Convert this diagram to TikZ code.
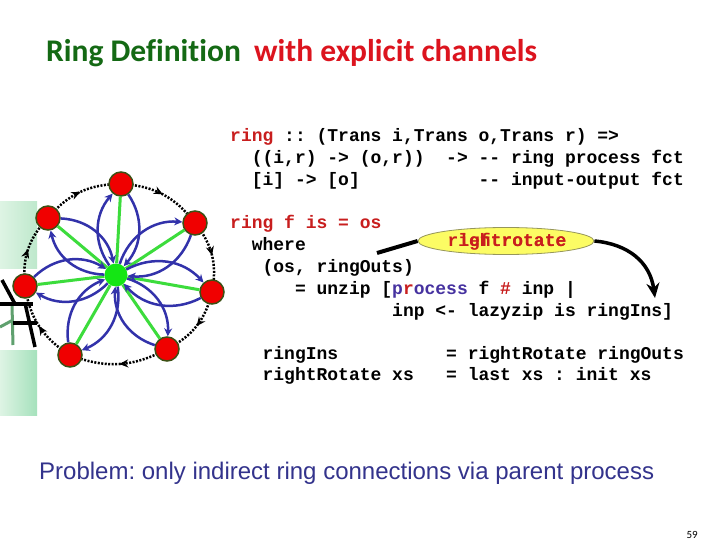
\documentclass[tikz,border=0pt]{standalone}
\usepackage{fontspec}
\setmainfont{Liberation Sans}
\newfontfamily\titlefont{Carlito}[Ligatures={NoCommon}]
\newfontfamily\codefont{Liberation Mono}
\usetikzlibrary{arrows.meta,decorations.markings,shapes.geometric}
\frenchspacing
\definecolor{titlegreen}{RGB}{20,105,20}
\definecolor{titlered}{RGB}{220,20,30}
\definecolor{codered}{RGB}{200,30,30}
\definecolor{probblue}{RGB}{51,51,140}
\definecolor{petalblue}{RGB}{50,50,170}
\definecolor{spokegreen}{RGB}{60,220,60}
\definecolor{nodered}{RGB}{240,0,0}
\definecolor{nodeedge}{RGB}{60,80,20}
\definecolor{centergreen}{RGB}{20,230,20}
\definecolor{ellyellow}{RGB}{252,252,100}
\definecolor{ellborder}{RGB}{150,150,90}
\definecolor{procblue}{RGB}{70,50,160}
\definecolor{lightgreenA}{RGB}{222,244,228}
\definecolor{lightgreenB}{RGB}{190,232,204}
\definecolor{lightgreenC}{RGB}{165,225,188}
\definecolor{gridgreen}{RGB}{95,160,110}
\tikzset{
  code/.style={anchor=base west, inner sep=0pt, font=\codefont\bfseries\fontsize{18}{20}\selectfont},
  ringnode/.style={circle, fill=nodered, draw=nodeedge, line width=1.5pt, minimum size=24pt, inner sep=0pt},
  hubnode/.style={circle, fill=centergreen, minimum size=23pt, inner sep=0pt},
  ringarc/.style={line width=2.5pt, dash pattern=on 2pt off 1.5pt,
    decoration={markings, mark=at position 0.5 with {\arrow{Stealth[length=9pt,width=8pt]}}},
    postaction={decorate}},
  spoke/.style={line width=3pt, spokegreen},
  petal/.style={line width=2.5pt, petalblue, -{Stealth[length=8pt,width=8pt]}},
  gridline/.style={line width=3.5pt, black}
}
\begin{document}
\begin{tikzpicture}[x=1pt,y=-1pt]
\useasboundingbox (0,0) rectangle (720,540);
\fill[white] (0,0) rectangle (720,540);
% left decoration
\shade[left color=lightgreenA, right color=lightgreenB] (0,202) rectangle (37,268);
\shade[left color=lightgreenA, right color=lightgreenC] (0,350) rectangle (37,415);
\draw[gridgreen, line width=3pt] (12,305) -- (13,345);
\draw[gridgreen, line width=3pt] (0,327) -- (13,320);
\draw[gridline] (2,280) -- (15,304);
\draw[gridline] (0,304) -- (33,304);
\draw[gridline] (13,323) -- (37,323);
\draw[gridline] (25,303) -- (35,347);
% ring
\coordinate (p1) at (121,184);
\coordinate (p2) at (195,223);
\coordinate (p3) at (212,292);
\coordinate (p4) at (167,349);
\coordinate (p5) at (70,355);
\coordinate (p6) at (25,286);
\coordinate (p7) at (48,218);
\draw[ringarc] (p1) to[bend left=25] (p2);
\draw[ringarc] (p2) to[bend left=25] (p3);
\draw[ringarc] (p3) to[bend left=25] (p4);
\draw[ringarc] (p4) to[bend left=25] (p5);
\draw[ringarc] (p5) to[bend left=25] (p6);
\draw[ringarc] (p6) to[bend left=25] (p7);
\draw[ringarc] (p7) to[bend left=25] (p1);
\node[hubnode] (c) at (116,275) {};
\foreach \i in {1,...,7} {\node[ringnode] (n\i) at (p\i) {};}
\foreach \i in {1,...,7} {\draw[spoke] (c) -- (n\i);}
\foreach \i in {1,...,7} {
  \draw[petal] (c) to[bend left=38] (n\i);
  \draw[petal] (n\i) to[bend left=38] (c);
}
% title
\node[anchor=base west, inner sep=0pt, font=\titlefont\bfseries\fontsize{31.5}{34}\selectfont, text=titlegreen] (t1) at (46,62) {Ring Definition};
\node[anchor=base west, inner sep=0pt, font=\titlefont\bfseries\fontsize{31.5}{34}\selectfont, text=titlered] (t2) at (254,62) {with explicit channels};
% code
\node[code, text=codered] (l1a) at (230,142) {ring};
\node[code] (l1b) at (284,142) {:: (Trans i,Trans o,Trans r) =>};
\node[code] (l2a) at (251.6,164) {((i,r) -> (o,r))};
\node[code] (l2b) at (446,164) {-> -- ring process fct};
\node[code] (l3a) at (251.6,186) {[i] -> [o]};
\node[code] (l3b) at (478.4,186) {-- input-output fct};
\node[code, text=codered] (l4) at (230,229) {ring f is = os};
\node[code] (l5) at (251.6,250) {where};
\node[code] (l6) at (262.4,272) {(os, ringOuts)};
\node[code] (l7a) at (294.8,294) {= unzip [};
\node[code] (l7b) at (392,294) {{\color{procblue}p}{\color{codered}r}{\color{procblue}ocess}};
\node[code] (l7c) at (478.4,294) {f};
\node[code, text=codered] (l7d) at (500,294) {\#};
\node[code] (l7e) at (521.6,294) {inp |};
\node[code] (l8) at (392,316) {inp <- lazyzip is ringIns]};
\node[code] (l9a) at (262.4,359) {ringIns};
\node[code] (l9b) at (446,359) {= rightRotate ringOuts};
\node[code] (l10a) at (262.4,380) {rightRotate xs};
\node[code] (l10b) at (446,380) {= last xs : init xs};
% ellipse
\node[ellipse, draw=ellborder, line width=0.8pt, fill=ellyellow, minimum width=176pt, minimum height=27pt, inner sep=0pt] (ell) at (506,241) {};
\node[code, anchor=base, text=codered] (rr) at (507,246) {rightrotate};
\node[code, anchor=base east, text=codered] (lr) at (rr.base east) {leftrotate};
\coordinate (whereend) at (377,253);
\coordinate (arrowend) at (655,298);
\draw[line width=4pt] (whereend) -- (ell.west);
\draw[line width=3.5pt, -{Stealth[length=15pt,width=13pt]}] (ell.east) .. controls (628,244) and (650,262) .. (arrowend);
% bottom
\node[anchor=base west, inner sep=0pt, font=\fontsize{24}{28}\selectfont, text=probblue] (prob) at (39,479) {Problem: only indirect ring connections via parent process};
\node[anchor=base east, inner sep=0pt, font=\titlefont\fontsize{11}{12}\selectfont] (pg) at (698,538) {59};
\end{tikzpicture}
\end{document}
